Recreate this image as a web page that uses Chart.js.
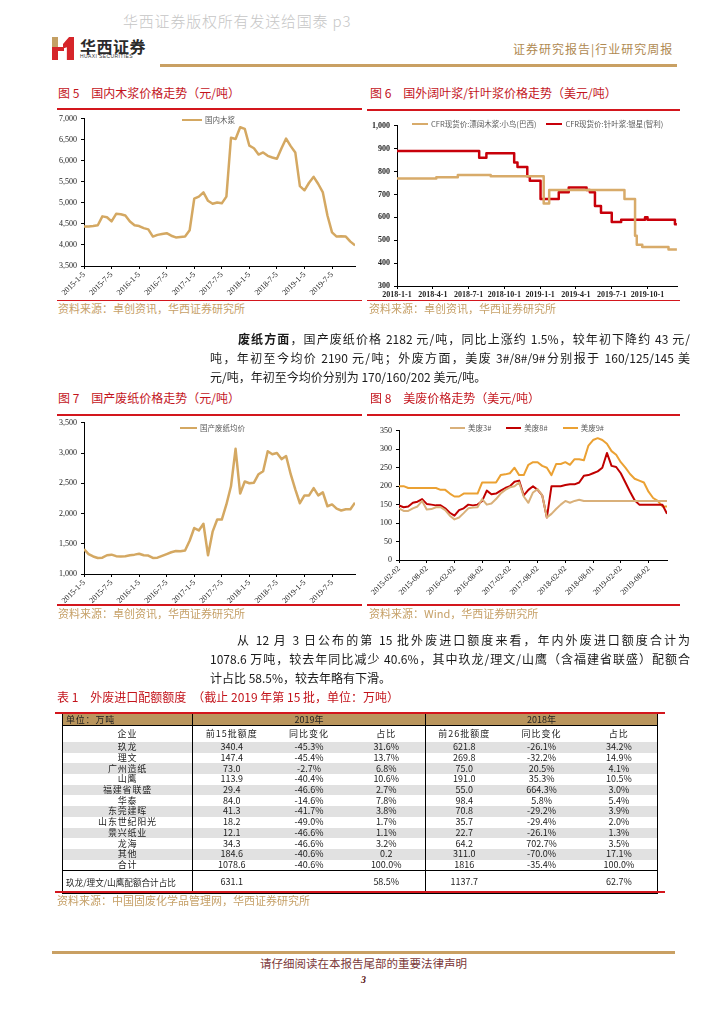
<!DOCTYPE html>
<html lang="zh-CN">
<head>
<meta charset="UTF-8" />
<title>行业研究周报 p3</title>
<script src="https://cdn.jsdelivr.net/npm/chart.js"></script>
<style>
  body { margin: 0; width: 724px; height: 1024px; position: relative; background: #fff; overflow: hidden;
         font-family: "Liberation Sans", "Noto Sans CJK SC", sans-serif; color: #1a1a1a; }
  .abs { position: absolute; }
  .cjk { font-family: "Noto Sans CJK SC", sans-serif; }
  .watermark { left: 123px; top: 10px; font-size: 15px; color: #c6c6c6; font-weight: 300; letter-spacing: 0.8px; white-space: nowrap; }
  .brand { left: 80px; top: 34px; font-size: 16px; font-weight: 700; color: #2b2b2b; letter-spacing: 0.5px; }
  .brand-en { left: 80px; top: 53px; font-size: 5px; color: #333; letter-spacing: 0.4px; font-family: "Liberation Sans", sans-serif; }
  .doc-type { left: 513px; top: 40px; font-size: 12px; color: #b08a52; letter-spacing: 1px; white-space: nowrap; }
  .gold { background: #c9a063; }
  .ttl { font-size: 12px; color: #c3141c; white-space: nowrap; line-height: 16px; }
  .rl { height: 1.5px; background: #d3161d; }
  .src { font-size: 11px; color: #c6a067; white-space: nowrap; line-height: 14px; }
  .box { position: absolute; }
  .legend { position: absolute; display: flex; align-items: center; white-space: nowrap;
            font-family: "Noto Sans CJK SC", sans-serif; font-size: 7.5px; color: #5a5a5a; line-height: 10px; }
  .legend .item { display: flex; align-items: center; }
  .legend .swatch { display: inline-block; height: 2.5px; margin-right: 3px; }
  .line { position: absolute; font-size: 12px; line-height: 16px; text-align: justify; text-align-last: justify; }
  .line.last { text-align: left; text-align-last: left; white-space: nowrap; }
  table { position: absolute; left: 62px; top: 714px; width: 595px; border-collapse: collapse; table-layout: fixed;
          font-family: "Noto Sans CJK SC", sans-serif; font-size: 9px; color: #222; }
  td { padding: 0; text-align: center; line-height: 10px; white-space: nowrap; overflow: hidden; }
  tr.h1 td { background: #b9955d; height: 11px; border-bottom: 1px solid #000; }
  tr.h2 td { height: 16px; letter-spacing: 1px; }
  tr.d td { height: 10.7px; }
  tr.d.g td { background: #e1e1e1; }
  tr.sum td { height: 22px; border-top: 1px solid #000; border-bottom: 1px solid #000; }
  td.c1 { border-left: 1px solid #000; border-right: 1px solid #000; letter-spacing: 0.8px; }
  td.c4 { border-right: 1px solid #000; }
  td.c7 { border-right: 1px solid #000; }
</style>
</head>
<body>

<div class="abs watermark cjk">华西证券版权所有发送给国泰 p3</div>

<!-- logo -->
<div class="abs" style="left:52px; top:37px; width:22px; height:23px;">
  <div class="abs" style="left:0; top:0; width:6px; height:10px; background:#c4a064;"></div>
  <div class="abs" style="left:0; top:10px; width:6px; height:13px; background:#d6252a;"></div>
  <div class="abs" style="left:6px; top:10px; width:6px; height:4px; background:#d6252a;"></div>
  <div class="abs" style="left:11px; top:0; width:11px; height:23px; background:#d6252a;
       clip-path: polygon(0 30%, 55% 0, 100% 0, 100% 100%, 35% 100%, 35% 45%, 0 50%);"></div>
</div>
<div class="abs brand cjk">华西证券</div>
<div class="abs brand-en">HUAXI SECURITIES</div>
<div class="abs doc-type cjk">证券研究报告|行业研究周报</div>
<div class="abs gold" style="left:160px; top:64px; width:517px; height:2.5px;"></div>

<!-- 图 5 -->
<div class="abs ttl cjk" style="left:58px; top:85px;">图 5　国内木浆价格走势（元/吨）</div>
<div class="abs rl" style="left:57px; top:108px; width:305px;"></div>
<div class="box" style="left:55px; top:110px; width:310px; height:190px;"><canvas id="c5"></canvas></div>
<div class="legend" id="lg5" style="left:182px; top:115px;"></div>
<div class="abs rl" style="left:57px; top:299.5px; width:305px;"></div>
<div class="abs src cjk" style="left:58px; top:301px;">资料来源：卓创资讯，华西证券研究所</div>

<!-- 图 6 -->
<div class="abs ttl cjk" style="left:370px; top:85px;">图 6　国外阔叶浆/针叶浆价格走势（美元/吨）</div>
<div class="abs rl" style="left:367px; top:109px; width:313px;"></div>
<div class="box" style="left:365px; top:117px; width:320px; height:185px;"><canvas id="c6"></canvas></div>
<div class="legend" id="lg6" style="left:412px; top:119px; gap:10px;"></div>
<div class="abs rl" style="left:367px; top:299.5px; width:313px;"></div>
<div class="abs src cjk" style="left:369px; top:301px;">资料来源：卓创资讯，华西证券研究所</div>

<!-- 段落 1 -->
<div class="line cjk" style="left:238px; top:331px; width:452px;"><b>废纸方面</b>，国产废纸价格 2182 元/吨，同比上涨约 1.5%，较年初下降约 43 元/</div>
<div class="line cjk" style="left:210px; top:350px; width:480px;">吨，年初至今均价 2190 元/吨；外废方面，美废 3#/8#/9#分别报于 160/125/145 美</div>
<div class="line last cjk" style="left:210px; top:369px;">元/吨，年初至今均价分别为 170/160/202 美元/吨。</div>

<!-- 图 7 -->
<div class="abs ttl cjk" style="left:58px; top:390px;">图 7　国产废纸价格走势（元/吨）</div>
<div class="abs rl" style="left:57px; top:414px; width:305px;"></div>
<div class="box" style="left:55px; top:414px; width:310px; height:191px;"><canvas id="c7"></canvas></div>
<div class="legend" id="lg7" style="left:180px; top:423px;"></div>
<div class="abs rl" style="left:57px; top:604px; width:305px;"></div>
<div class="abs src cjk" style="left:58px; top:606px;">资料来源：卓创资讯，华西证券研究所</div>

<!-- 图 8 -->
<div class="abs ttl cjk" style="left:370px; top:390px;">图 8　美废价格走势（美元/吨）</div>
<div class="abs rl" style="left:367px; top:414px; width:313px;"></div>
<div class="box" style="left:365px; top:422px; width:320px; height:182px;"><canvas id="c8"></canvas></div>
<div class="legend" id="lg8" style="left:450px; top:423px; gap:15px;"></div>
<div class="abs rl" style="left:367px; top:604px; width:313px;"></div>
<div class="abs src cjk" style="left:369px; top:606px;">资料来源：Wind，华西证券研究所</div>

<!-- 段落 2 -->
<div class="line cjk" style="left:237px; top:632px; width:453px;">从 12 月 3 日公布的第 15 批外废进口额度来看，年内外废进口额度合计为</div>
<div class="line cjk" style="left:210px; top:651px; width:480px;">1078.6 万吨，较去年同比减少 40.6%，其中玖龙/理文/山鹰（含福建省联盛）配额合</div>
<div class="line last cjk" style="left:210px; top:670px;">计占比 58.5%，较去年略有下滑。</div>

<!-- 表 1 -->
<div class="abs ttl cjk" style="left:57px; top:689px;">表 1　外废进口配额额度　（截止 2019 年第 15 批，单位：万吨）</div>
<div class="abs rl" style="left:55px; top:711.5px; width:610px; height:2px;"></div>
<table id="tbl"></table>
<div class="abs rl" style="left:55px; top:891px; width:610px; height:2px;"></div>
<div class="abs src cjk" style="left:57px; top:893px;">资料来源：中国固废化学品管理网，华西证券研究所</div>

<!-- 页脚 -->
<div class="abs gold" style="left:52px; top:951px; width:623px; height:3px;"></div>
<div class="abs cjk" style="left:52px; top:955px; width:623px; text-align:center; font-size:11.5px; color:#7b3838;">请仔细阅读在本报告尾部的重要法律声明</div>
<div class="abs" style="left:52px; top:974px; width:623px; text-align:center; font-size:10px; font-weight:700; color:#5a1010; font-family:'Liberation Serif', serif; font-style:italic;">3</div>

<script>
  // ---- 图5 国内木浆（元/吨），2015-01 起按月 ----
  const pulpLabels = ["2015-1-5", "2015-7-5", "2016-1-5", "2016-7-5", "2017-1-5",
                      "2017-7-5", "2018-1-5", "2018-7-5", "2019-1-5", "2019-7-5"];
  const pulpDomestic = [
    4440, 4440, 4450, 4470, 4680, 4660, 4560, 4740, 4730, 4700, 4560, 4470,
    4450, 4400, 4370, 4200, 4240, 4260, 4280, 4220, 4180, 4190, 4200, 4350,
    5100, 5150, 5250, 5050, 4980, 5010, 4990, 5150, 6550, 6520, 6800, 6760,
    6360, 6300, 6150, 6200, 6120, 6080, 6050, 6300, 6530, 6350, 6200, 5400,
    5300, 5480, 5620, 5450, 5250, 4700, 4300, 4200, 4210, 4200, 4080, 3990
  ];

  // ---- 图6 国外阔叶浆/针叶浆（美元/吨），阶梯价格 ----
  const importLabels = ["2018-1-1", "2018-4-1", "2018-7-1", "2018-10-1",
                        "2019-1-1", "2019-4-1", "2019-7-1", "2019-10-1"];
  const hardwoodDates = ["2018-01-01", "2018-04-10", "2018-06-04", "2018-08-27", "2019-01-10", "2019-01-24",
                         "2019-08-03", "2019-08-30", "2019-09-04", "2019-09-18", "2019-11-24", "2019-12-15"];
  const hardwoodPrice = [770, 775, 785, 780, 660, 720, 680, 520, 480, 470, 460, 460];
  const softwoodDates = ["2018-01-01", "2018-07-28", "2018-08-16", "2018-10-26", "2018-11-04", "2018-11-29",
                         "2018-12-05", "2019-01-02", "2019-02-18", "2019-03-13", "2019-04-28", "2019-05-06",
                         "2019-05-19", "2019-06-04", "2019-07-01", "2019-07-25", "2019-09-25", "2019-10-01",
                         "2019-12-10", "2019-12-15"];
  const softwoodPrice = [890, 860, 880, 840, 820, 780, 760, 680, 710, 730, 720, 710,
                         650, 620, 580, 590, 600, 590, 570, 570];

  // ---- 图7 国产废纸均价（元/吨），2015-01 起按月 ----
  const wastePaper = [
    1410, 1330, 1290, 1265, 1270, 1310, 1320, 1295, 1290, 1295, 1310, 1320,
    1335, 1310, 1305, 1265, 1270, 1300, 1330, 1360, 1380, 1375, 1390, 1550,
    1760, 1720, 1830, 1310, 1700, 1900, 1900, 2150, 2450, 3070, 2330, 2530,
    2500, 2510, 2650, 2700, 3030, 2980, 3000, 2900, 2950, 2650, 2400, 2170,
    2300, 2300, 2420, 2300, 2350, 2120, 2150, 2080, 2050, 2070, 2070, 2180
  ];

  // ---- 图8 美废（美元/吨），2015-02 起按月 ----
  const usLabels = ["2015-02-02", "2015-08-02", "2016-02-02", "2016-08-02", "2017-02-02",
                    "2017-08-02", "2018-02-02", "2018-08-01", "2019-02-02", "2019-08-02"];
  const us3 = [
    140, 133, 133, 140, 145, 160, 137, 138, 143, 143, 135, 120, 110, 115, 127, 140, 142, 143, 165, 150,
    153, 165, 180, 190, 197, 200, 210, 172, 155, 183, 192, 175, 115, 125, 138, 150, 160, 155, 160, 163,
    160, 160, 160, 160, 160, 160, 160, 160, 160, 160, 160, 160, 160, 160, 160, 160, 160, 160, 160
  ];
  const us8 = [
    148, 143, 145, 155, 158, 165, 152, 150, 148, 148, 140, 128, 120, 135, 140, 150, 148, 150, 160, 188,
    178, 180, 188, 195, 200, 212, 215, 175, 190, 200, 190, 175, 115, 200, 200, 200, 203, 205, 205, 210,
    228, 230, 235, 240, 250, 290, 255, 252, 235, 210, 185, 162, 150, 150, 150, 150, 150, 150, 125
  ];
  const us9 = [
    200, 200, 195, 195, 195, 195, 195, 195, 195, 190, 190, 180, 172, 172, 180, 180, 180, 180, 210, 210,
    210, 210, 230, 232, 235, 250, 230, 230, 258, 265, 265, 255, 250, 230, 260, 260, 265, 258, 273, 273,
    270, 310, 325, 330, 325, 315, 295, 285, 265, 250, 233, 220, 215, 210, 185, 168, 160, 145, 145
  ];

  // ---- 表1 外废进口配额 ----
  const companies = ["玖龙", "理文", "广州造纸", "山鹰", "福建省联盛", "华泰", "东莞建晖",
                     "山东世纪阳光", "景兴纸业", "龙海", "其他", "合计"];
  const quota2019 = ["340.4", "147.4", "73.0", "113.9", "29.4", "84.0", "41.3", "18.2", "12.1", "34.3", "184.6", "1078.6"];
  const yoy2019 = ["-45.3%", "-45.4%", "-2.7%", "-40.4%", "-46.6%", "-14.6%", "-41.7%", "-49.0%", "-46.6%", "-46.6%", "-40.6%", "-40.6%"];
  const share2019 = ["31.6%", "13.7%", "6.8%", "10.6%", "2.7%", "7.8%", "3.8%", "1.7%", "1.1%", "3.2%", "0.2", "100.0%"];
  const quota2018 = ["621.8", "269.8", "75.0", "191.0", "55.0", "98.4", "70.8", "35.7", "22.7", "64.2", "311.0", "1816"];
  const yoy2018 = ["-26.1%", "-32.2%", "20.5%", "35.3%", "664.3%", "5.8%", "-29.2%", "-29.4%", "-26.1%", "702.7%", "-70.0%", "-35.4%"];
  const share2018 = ["34.2%", "14.9%", "4.1%", "10.5%", "3.0%", "5.4%", "3.9%", "2.0%", "1.3%", "3.5%", "17.1%", "100.0%"];
  const topThree = ["玖龙/理文/山鹰配额合计占比", "631.1", "", "58.5%", "1137.7", "", "62.7%"];

  // 表格
  const tbl = document.getElementById("tbl");
  let html = '<colgroup><col style="width:130px"><col style="width:78px"><col style="width:77px"><col style="width:78px">' +
             '<col style="width:77px"><col style="width:78px"><col style="width:77px"></colgroup>';
  html += '<tr class="h1"><td class="c1" style="text-align:left;padding-left:3px;">单位：万吨</td>' +
          '<td colspan="3" class="c4">2019年</td><td colspan="3" class="c7">2018年</td></tr>';
  const heads = ["企业", "前15批额度", "同比变化", "占比", "前26批额度", "同比变化", "占比"];
  html += '<tr class="h2">' + heads.map((h, i) => `<td class="c${i + 1}">${h}</td>`).join("") + "</tr>";
  companies.forEach((name, i) => {
    const cells = [name, quota2019[i], yoy2019[i], share2019[i], quota2018[i], yoy2018[i], share2018[i]];
    html += `<tr class="d${i % 2 === 0 ? " g" : ""}">` + cells.map((c, j) => `<td class="c${j + 1}">${c}</td>`).join("") + "</tr>";
  });
  html += '<tr class="sum">' + topThree.map((c, j) =>
    `<td class="c${j + 1}"${j === 0 ? ' style="letter-spacing:0;font-size:8.6px;text-align:left;padding-left:3px"' : ""}>${c}</td>`).join("") + "</tr>";
  tbl.innerHTML = html;

  // 日期 -> 自 2018-01 起的月数
  function monthsSince2018(d) {
    const [y, m, day] = d.split("-").map(Number);
    return (y - 2018) * 12 + (m - 1) + (day - 1) / 30.4;
  }

  const SERIF = "'Liberation Serif', 'Times New Roman', serif";
  const TAN = "#d4a862";
  const RED = "#c8000a";

  // 图例：放在绘图区内部上方
  function htmlLegend(id, datasets, swatchW) {
    document.getElementById(id).innerHTML = datasets.map((d) =>
      `<span class="item"><span class="swatch" style="width:${swatchW}px;background:${d.borderColor}"></span>${d.label}</span>`
    ).join("");
  }

  function makeChart(id, datasets, s) {
    return new Chart(document.getElementById(id), {
      type: "line",
      data: { datasets: datasets },
      options: {
        responsive: true,
        maintainAspectRatio: false,
        animation: false,
        layout: { padding: { top: 5, right: s.padRight, left: 0, bottom: 0 } },
        elements: { point: { radius: 0 }, line: { tension: 0, borderJoinStyle: "round" } },
        plugins: { tooltip: { enabled: false }, legend: { display: false } },
        scales: {
          x: {
            type: "linear",
            min: s.xMin,
            max: s.xMax,
            afterFit: (sc) => { sc.height = s.xH; },
            border: { color: "#000", width: 1 },
            grid: { drawOnChartArea: false, drawTicks: true, tickLength: 3, color: "#000" },
            ticks: {
              stepSize: s.xStep, includeBounds: false, autoSkip: false,
              maxRotation: s.rot, minRotation: s.rot, padding: 1, color: "#222",
              font: { family: SERIF, size: 8, weight: s.bold ? "bold" : "normal" },
              callback: (v) => s.xLabels[Math.round((v - s.xMin) / s.xStep)]
            }
          },
          y: {
            min: s.yMin,
            max: s.yMax,
            afterFit: (sc) => { sc.width = s.yW; },
            border: { color: "#000", width: 1 },
            grid: { drawOnChartArea: false, drawTicks: true, tickLength: 3, color: "#000" },
            ticks: {
              stepSize: s.yStep, padding: 4, color: "#222",
              font: { family: SERIF, size: 8, weight: s.bold ? "bold" : "normal" },
              callback: (v) => v.toLocaleString("en-US")
            }
          }
        }
      }
    });
  }

  const monthly = (arr) => arr.map((v, i) => ({ x: i, y: v }));
  const dated = (dates, vals) => dates.map((d, i) => ({ x: monthsSince2018(d), y: vals[i] }));

  const ds5 = [
    { label: "国内木浆", data: monthly(pulpDomestic), borderColor: TAN, backgroundColor: TAN, borderWidth: 2.5 }
  ];
  makeChart("c5", ds5, { xMin: 0, xMax: 59, xStep: 6, xLabels: pulpLabels, rot: 45, xH: 34, yW: 29, padRight: 10,
                         yMin: 3500, yMax: 7000, yStep: 500 });
  htmlLegend("lg5", ds5, 20);

  const ds6 = [
    { label: "CFR现货价:漂阔木浆:小鸟(巴西)", data: dated(hardwoodDates, hardwoodPrice), stepped: true,
      borderColor: "#d8ab6a", backgroundColor: "#d8ab6a", borderWidth: 2.5 },
    { label: "CFR现货价:针叶浆:银星(智利)", data: dated(softwoodDates, softwoodPrice), stepped: true,
      borderColor: RED, backgroundColor: RED, borderWidth: 2.5 }
  ];
  makeChart("c6", ds6, { xMin: 0, xMax: 23.47, xStep: 3, xLabels: importLabels, rot: 0, xH: 16, yW: 32, padRight: 8,
                         yMin: 300, yMax: 1000, yStep: 100, bold: true });
  htmlLegend("lg6", ds6, 16);

  const ds7 = [
    { label: "国产废纸均价", data: monthly(wastePaper), borderColor: TAN, backgroundColor: TAN, borderWidth: 2.5 }
  ];
  makeChart("c7", ds7, { xMin: 0, xMax: 59, xStep: 6, xLabels: pulpLabels, rot: 45, xH: 31, yW: 29, padRight: 10,
                         yMin: 1000, yMax: 3500, yStep: 500 });
  htmlLegend("lg7", ds7, 17);

  const ds8 = [
    { label: "美废3#", data: monthly(us3), borderColor: "#d9b07a", backgroundColor: "#d9b07a", borderWidth: 2 },
    { label: "美废8#", data: monthly(us8), borderColor: "#c00000", backgroundColor: "#c00000", borderWidth: 2 },
    { label: "美废9#", data: monthly(us9), borderColor: "#eba133", backgroundColor: "#eba133", borderWidth: 2 }
  ];
  makeChart("c8", ds8, { xMin: 0, xMax: 58, xStep: 6, xLabels: usLabels, rot: 45, xH: 44, yW: 34, padRight: 18,
                         yMin: 0, yMax: 350, yStep: 50 });
  htmlLegend("lg8", ds8, 15);
</script>
</body>
</html>
